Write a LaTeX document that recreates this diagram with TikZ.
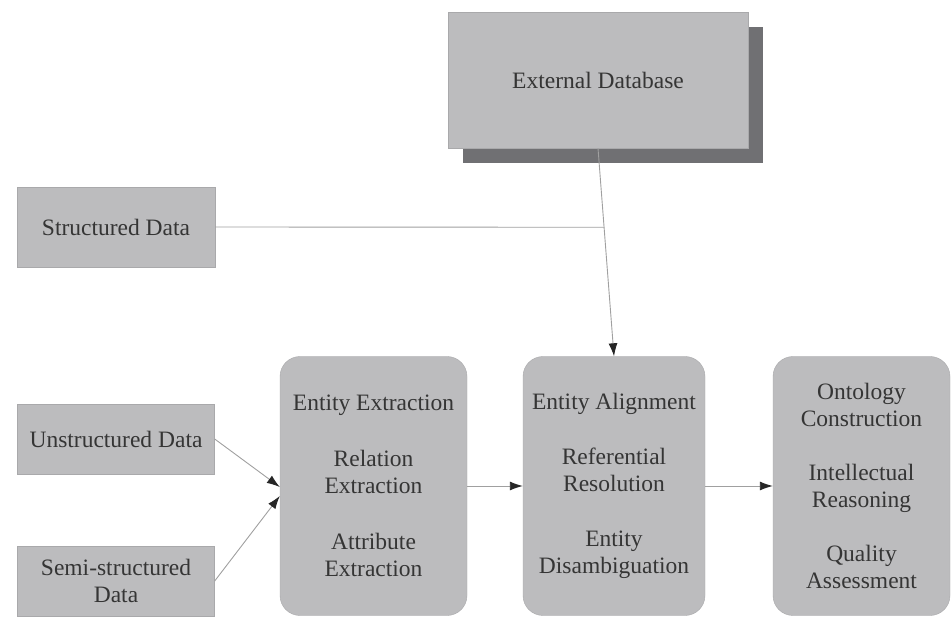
\documentclass[tikz,border=0pt]{standalone}
\usepackage{fontspec}
\setmainfont{Liberation Serif}
\usetikzlibrary{arrows.meta,shadows,calc}

\definecolor{boxgray}{HTML}{BCBCBE}
\definecolor{edgegray}{HTML}{A9A9AB}
\definecolor{shadegray}{HTML}{707073}
\definecolor{inkgray}{HTML}{353535}
\definecolor{linegray}{HTML}{A0A0A0}

\tikzset{
  databox/.style={draw=edgegray, fill=boxgray, text=inkgray, align=center, inner sep=0pt},
  stagebox/.style={databox, rounded corners=20pt, minimum height=259pt},
  link/.style={draw=linegray, line width=0.9pt},
  flow/.style={link, -{Latex[length=13pt,width=9pt,color=black!85]}}
}

\begin{document}
\begin{tikzpicture}[x=1pt, y=-1pt, font=\fontsize{23.5}{27}\selectfont]
    \useasboundingbox (0,0) rectangle (951,617);

    % sources
    \node[databox, minimum width=300pt, minimum height=136pt,
          drop shadow={shadow xshift=15pt, shadow yshift=-15pt, fill=shadegray, opacity=1}]
          (ext) at (598,80) {External Database};
    \node[databox, minimum width=198pt, minimum height=80pt] (struct) at (116,227) {Structured Data};
    \node[databox, minimum width=197pt, minimum height=70pt] (unstruct) at (116,439) {Unstructured Data};
    \node[databox, minimum width=197pt, minimum height=70pt] (semi) at (116,581) {Semi-structured\\Data};

    % stages
    \node[stagebox, minimum width=187pt] (extract) at (373.5,486)
          {Entity Extraction\\[29pt]Relation\\Extraction\\[29pt]Attribute\\Extraction};
    \node[stagebox, minimum width=182pt] (align) at (614,486)
          {Entity Alignment\\[28pt]Referential\\Resolution\\[28pt]Entity\\Disambiguation};
    \node[stagebox, minimum width=177pt] (onto) at (861.5,486)
          {Ontology\\Construction\\[27pt]Intellectual\\Reasoning\\[27pt]Quality\\Assessment};

    % connectors
    \coordinate (join) at ($(ext.south)!0.38!(align.north)$);
    \draw[flow] (ext.south) -- (align.north);
    \draw[link] (struct.east) -- (join);
    \draw[flow] (unstruct.east) -- ([yshift=-1pt]extract.west);
    \draw[flow] (semi.east) -- ([yshift=-10pt]extract.west);
    \draw[flow] (extract) -- (align);
    \draw[flow] (align) -- (onto);
\end{tikzpicture}
\end{document}
